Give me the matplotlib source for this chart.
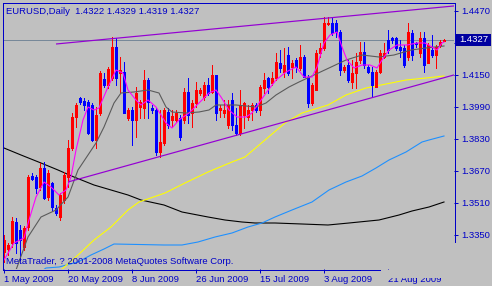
import numpy as np
import pandas as pd
import matplotlib
matplotlib.use('Agg')
import matplotlib.pyplot as plt
from matplotlib.lines import Line2D
from matplotlib.patches import Rectangle
from matplotlib.transforms import blended_transform_factory

# EURUSD daily bars, broker calendar includes the Sunday bar
dates = pd.bdate_range('2009-05-01', periods=111, freq='C',
                       weekmask='Sun Mon Tue Wed Thu Fri')

opens = [1.3265, 1.3280, 1.3310, 1.3415, 1.3375, 1.3290, 1.3390, 1.3645, 1.3640, 1.3590,
         1.3685, 1.3540, 1.3610, 1.3485, 1.3440, 1.3525, 1.3640, 1.3785, 1.3940, 1.4035,
         1.4020, 1.4015, 1.4000, 1.3825, 1.3960, 1.4130, 1.4100, 1.4135, 1.4290, 1.4160,
         1.4165, 1.3935, 1.3975, 1.3925, 1.3990, 1.3985, 1.4125, 1.3985, 1.3975, 1.3765,
         1.3810, 1.3965, 1.3925, 1.3925, 1.3935, 1.3925, 1.4065, 1.3960, 1.4010, 1.4060,
         1.4040, 1.4100, 1.4065, 1.4150, 1.3975, 1.3960, 1.3900, 1.4025, 1.3900, 1.3860,
         1.3950, 1.3940, 1.3975, 1.4000, 1.3975, 1.4085, 1.4135, 1.4110, 1.4135, 1.4210,
         1.4165, 1.4250, 1.4190, 1.4225, 1.4185, 1.4240, 1.4140, 1.4010, 1.4075, 1.4260,
         1.4285, 1.4405, 1.4410, 1.4410, 1.4365, 1.4175, 1.4200, 1.4115, 1.4160, 1.4225,
         1.4265, 1.4190, 1.4165, 1.4090, 1.4165, 1.4240, 1.4325, 1.4335, 1.4335, 1.4290,
         1.4285, 1.4240, 1.4360, 1.4310, 1.4260, 1.4335, 1.4210, 1.4275, 1.4250, 1.4300,
         1.4322]
highs = [1.3350, 1.3310, 1.3440, 1.3435, 1.3400, 1.3395, 1.3650, 1.3660, 1.3650, 1.3710,
         1.3715, 1.3675, 1.3615, 1.3500, 1.3560, 1.3665, 1.3825, 1.3960, 1.4010, 1.4040,
         1.4035, 1.4025, 1.4010, 1.3990, 1.4170, 1.4160, 1.4190, 1.4340, 1.4335, 1.4240,
         1.4215, 1.3985, 1.3990, 1.4090, 1.4025, 1.4175, 1.4135, 1.4000, 1.3985, 1.3975,
         1.3985, 1.3985, 1.3975, 1.3975, 1.3950, 1.4085, 1.4135, 1.4025, 1.4115, 1.4085,
         1.4115, 1.4135, 1.4200, 1.4150, 1.4000, 1.4025, 1.4025, 1.4060, 1.3985, 1.4075,
         1.4015, 1.4000, 1.4010, 1.4010, 1.4100, 1.4160, 1.4140, 1.4165, 1.4260, 1.4275,
         1.4285, 1.4290, 1.4225, 1.4235, 1.4300, 1.4250, 1.4150, 1.4110, 1.4275, 1.4310,
         1.4440, 1.4440, 1.4440, 1.4425, 1.4375, 1.4200, 1.4225, 1.4225, 1.4260, 1.4315,
         1.4315, 1.4200, 1.4190, 1.4175, 1.4275, 1.4310, 1.4375, 1.4340, 1.4340, 1.4325,
         1.4300, 1.4410, 1.4375, 1.4315, 1.4365, 1.4365, 1.4310, 1.4350, 1.4300, 1.4325,
         1.4329]
lows = [1.3215, 1.3250, 1.3290, 1.3260, 1.3225, 1.3275, 1.3375, 1.3625, 1.3560, 1.3575,
        1.3530, 1.3525, 1.3475, 1.3450, 1.3425, 1.3510, 1.3590, 1.3775, 1.3890, 1.4005,
        1.3975, 1.3855, 1.3820, 1.3785, 1.3950, 1.4090, 1.4085, 1.4125, 1.4100, 1.4065,
        1.3960, 1.3925, 1.3800, 1.3840, 1.3935, 1.3935, 1.3935, 1.3960, 1.3750, 1.3740,
        1.3800, 1.3885, 1.3890, 1.3915, 1.3825, 1.3910, 1.3910, 1.3890, 1.3990, 1.4050,
        1.4025, 1.4050, 1.4060, 1.3925, 1.3940, 1.3940, 1.3885, 1.3875, 1.3850, 1.3850,
        1.3885, 1.3925, 1.3925, 1.3965, 1.3950, 1.4060, 1.4060, 1.4100, 1.4125, 1.4165,
        1.4140, 1.4150, 1.4135, 1.4165, 1.4175, 1.4140, 1.3990, 1.4000, 1.4075, 1.4240,
        1.4275, 1.4400, 1.4350, 1.4340, 1.4150, 1.4165, 1.4115, 1.4085, 1.4085, 1.4210,
        1.4185, 1.4160, 1.4040, 1.4090, 1.4160, 1.4235, 1.4260, 1.4310, 1.4275, 1.4240,
        1.4190, 1.4225, 1.4225, 1.4290, 1.4240, 1.4165, 1.4210, 1.4240, 1.4185, 1.4290,
        1.4319]
closes = [1.3325, 1.3300, 1.3420, 1.3310, 1.3325, 1.3385, 1.3640, 1.3630, 1.3585, 1.3685,
          1.3535, 1.3660, 1.3490, 1.3460, 1.3550, 1.3650, 1.3785, 1.3940, 1.4000, 1.4015,
          1.4000, 1.3860, 1.3825, 1.3950, 1.4160, 1.4100, 1.4180, 1.4290, 1.4135, 1.4175,
          1.3960, 1.3975, 1.3925, 1.4060, 1.4015, 1.4125, 1.4015, 1.3975, 1.3765, 1.3815,
          1.3975, 1.3900, 1.3945, 1.3960, 1.3840, 1.4065, 1.3950, 1.4010, 1.4075, 1.4075,
          1.4100, 1.4060, 1.4150, 1.3960, 1.3985, 1.3975, 1.4000, 1.3900, 1.3860, 1.4000,
          1.4010, 1.3975, 1.4000, 1.3975, 1.4090, 1.4125, 1.4090, 1.4135, 1.4215, 1.4185,
          1.4200, 1.4160, 1.4210, 1.4190, 1.4240, 1.4140, 1.4010, 1.4100, 1.4260, 1.4285,
          1.4410, 1.4410, 1.4360, 1.4365, 1.4175, 1.4190, 1.4125, 1.4160, 1.4215, 1.4265,
          1.4200, 1.4165, 1.4100, 1.4165, 1.4260, 1.4260, 1.4275, 1.4325, 1.4285, 1.4275,
          1.4200, 1.4365, 1.4250, 1.4305, 1.4335, 1.4200, 1.4300, 1.4250, 1.4290, 1.4315,
          1.4327]

# moving averages (bar index, price)
fast_ma_bar = [0, 2.5, 5, 6.25, 8, 10, 11.75, 13.75, 15.5, 16.75, 18, 19.75, 21, 22.5, 23.75,
               26, 28, 29.75, 31, 33, 34.25, 36, 38, 40.5, 42, 43.75, 46.25, 48.75, 51.25, 53,
               54.25, 56.25, 58.25, 60.5, 62, 63.75, 65.5, 68, 70.5, 73, 75, 77, 78.25, 80, 81.5,
               83.25, 84.5, 85.75, 87.5, 89.5, 91.5, 93.25, 94.5, 96.25, 98.25, 100.75, 103.25,
               105.25, 107, 108.25, 109.5, 110]
fast_ma_val = [1.3225, 1.3310, 1.3335, 1.3425, 1.3540, 1.3615, 1.3590, 1.3550, 1.3575, 1.3640,
               1.3775, 1.3925, 1.3990, 1.3975, 1.3985, 1.4090, 1.4175, 1.4160, 1.4075, 1.4025,
               1.4000, 1.4025, 1.3990, 1.3910, 1.3885, 1.3925, 1.3960, 1.4010, 1.4060, 1.4075,
               1.4040, 1.3975, 1.3940, 1.3940, 1.3960, 1.4010, 1.4060, 1.4125, 1.4165, 1.4190,
               1.4140, 1.4140, 1.4190, 1.4310, 1.4350, 1.4365, 1.4290, 1.4225, 1.4185, 1.4200,
               1.4200, 1.4185, 1.4225, 1.4275, 1.4300, 1.4300, 1.4310, 1.4310, 1.4290, 1.4275,
               1.4310, 1.4315]
mid_ma_bar = [3, 6, 9.25, 13, 16, 18.5, 21, 23, 25, 27.5, 29.25, 32.5, 36, 38.75, 40.5, 42,
              45.5, 48.75, 51.25, 53, 58, 63, 65.5, 68, 71.25, 73.75, 77.5, 81.25, 85.5, 89.5,
              93.75, 97.5, 101.75, 105.5, 110]
mid_ma_val = [1.3175, 1.3340, 1.3440, 1.3475, 1.3540, 1.3675, 1.3750, 1.3810, 1.3890, 1.4010,
              1.4060, 1.4065, 1.4075, 1.4060, 1.3990, 1.3965, 1.3960, 1.3965, 1.3975, 1.4000,
              1.4000, 1.3990, 1.4010, 1.4050, 1.4090, 1.4115, 1.4150, 1.4185, 1.4225, 1.4250,
              1.4240, 1.4250, 1.4275, 1.4285, 1.4295]
slow_ma_bar = [14.25, 18.5, 22.5, 26.75, 31, 33.75, 40.25, 45.25, 51, 57, 60.25, 65.25, 70.25,
               74.5, 81, 85.5, 90.5, 95.5, 100.5, 105.5, 110]
slow_ma_val = [1.3175, 1.3250, 1.3325, 1.3390, 1.3475, 1.3515, 1.3560, 1.3610, 1.3665, 1.3715,
               1.3740, 1.3825, 1.3910, 1.3960, 1.4000, 1.4050, 1.4085, 1.4105, 1.4125, 1.4135,
               1.4145]
long_ma_bar = [8, 10.5, 13.75, 18.5, 21.75, 25, 27.5, 40, 44.5, 48.5, 52.75, 57, 61, 64.5,
               67.75, 72, 77, 81.25, 85.5, 89.5, 93, 96.25, 100.5, 104.5, 106.25, 110]
long_ma_val = [1.3150, 1.3185, 1.3190, 1.3215, 1.3250, 1.3280, 1.3305, 1.3300, 1.3300, 1.3315,
               1.3340, 1.3360, 1.3390, 1.3410, 1.3440, 1.3475, 1.3515, 1.3575, 1.3615, 1.3645,
               1.3685, 1.3725, 1.3765, 1.3815, 1.3825, 1.3845]
trend_ma_bar = [0, 4.25, 9.25, 13.5, 17.5, 22.5, 26.75, 31, 34.25, 40, 44.5, 51, 55.25, 59.5,
                62.75, 67.75, 74.5, 81, 86.25, 93.75, 98.75, 102, 106.25, 110]
trend_ma_val = [1.3785, 1.3750, 1.3710, 1.3675, 1.3640, 1.3600, 1.3575, 1.3550, 1.3525, 1.3500,
                1.3465, 1.3440, 1.3425, 1.3415, 1.3410, 1.3410, 1.3405, 1.3400, 1.3410, 1.3425,
                1.3450, 1.3470, 1.3490, 1.3515]

# channel trend lines (two anchors each, drawn as rays)
upper_line_bar = [13, 81]
upper_line_price = [1.4305, 1.4435]
lower_line_bar = [16, 58]
lower_line_price = [1.3615, 1.3848]

tick_dates = ['2009-05-01', '2009-05-20', '2009-06-08', '2009-06-26',
              '2009-07-15', '2009-08-03', '2009-08-21']
tick_labels = ['1 May 2009', '20 May 2009', '8 Jun 2009', '26 Jun 2009',
               '15 Jul 2009', '3 Aug 2009', '21 Aug 2009']
price_ticks = [1.3350, 1.3510, 1.3670, 1.3830, 1.3990, 1.4150, 1.4310, 1.4470]

W, H = 492, 286
bg = '#C0C0C0'
fg = '#0000C8'
px = 0.72  # one pixel in points
plt.rcParams['font.family'] = ['Liberation Sans', 'DejaVu Sans']
fs = 6.8

fig = plt.figure(figsize=(W / 100, H / 100), dpi=100, facecolor=bg)
ax = fig.add_axes([3 / W, (H - 269) / H, 451 / W, 266 / H])
ax.set_facecolor(bg)
ax.set_xlim(-0.25, 112.5)
ax.set_ylim(1.3180, 1.4510)
for s in ax.spines.values():
    s.set_visible(False)

o, h, l, c = map(np.array, (opens, highs, lows, closes))
x = np.arange(len(c))
col = np.where(c >= o, '#FF0000', '#0000FF')

# indicators under the candles
ax.plot(trend_ma_bar, trend_ma_val, color='black', lw=px * 1.1, zorder=2)
ax.plot(long_ma_bar, long_ma_val, color='#1E90FF', lw=px * 1.1, zorder=2)
ax.plot(slow_ma_bar, slow_ma_val, color='#FFFF00', lw=px * 1.1, zorder=2)

# candles: 1 px wick, 3 px body
ax.vlines(x, l, h, colors=col, lw=px, zorder=3, antialiased=False)
body_lo = np.minimum(o, c)
body_hi = np.maximum(np.maximum(o, c), body_lo + 0.0005)
ax.vlines(x, body_lo, body_hi, colors=col, lw=3 * px, zorder=4, antialiased=False,
          capstyle='butt')

ax.plot(mid_ma_bar, mid_ma_val, color='#5A5A5A', lw=px * 1.1, zorder=5)
ax.plot(fast_ma_bar, fast_ma_val, color='#FF00FF', lw=px * 1.1, zorder=5)

# channel rays
x_end = ax.get_xlim()[1]
for bars, prices in ((upper_line_bar, upper_line_price), (lower_line_bar, lower_line_price)):
    k = (prices[1] - prices[0]) / (bars[1] - bars[0])
    ax.plot([bars[0], x_end], [prices[0], prices[0] + k * (x_end - bars[0])],
            color='#9400D3', lw=px * 1.2, zorder=6, solid_capstyle='butt')

# bid line and label
ax.axhline(c[-1], color='#778899', lw=px, zorder=1)
tr = blended_transform_factory(ax.transAxes, ax.transData)
ax.add_patch(Rectangle((1 + 2 / 451, c[-1] - 0.003), 35 / 451, 0.006, transform=tr,
                       fc='#0000A0', ec='none', clip_on=False, zorder=10))
ax.text(1 + 5 / 451, c[-1], f'{c[-1]:.4f}', transform=tr, color='white', fontsize=fs,
        ha='left', va='center', clip_on=False, zorder=11)

# axes ticks
ax.yaxis.tick_right()
ax.set_yticks(price_ticks, [('' if abs(p - 1.4310) < 1e-6 else f'{p:.4f}') for p in price_ticks])
tick_pos = dates.get_indexer(pd.to_datetime(tick_dates))
ax.set_xticks(tick_pos, tick_labels, ha='left')
ax.tick_params(axis='both', colors=fg, labelcolor=fg, labelsize=fs, length=3,
               width=px, direction='out')
ax.tick_params(axis='y', pad=2.2)
ax.tick_params(axis='x', pad=1.2)

# chart frame
def frame(x0, y0, x1, y1):
    fig.add_artist(Line2D([x0 / W, x1 / W], [1 - y0 / H, 1 - y1 / H], color=fg,
                          lw=px, antialiased=False))

frame(2.5, 2.5, 455, 2.5)
frame(2.5, 2.5, 2.5, 270)
frame(454.5, 2.5, 454.5, 242)
frame(2.5, 269.5, 380, 269.5)

# the last date label is half hidden under the window edge
fig.add_artist(Rectangle((382 / W, 1 - 278 / H), 70 / W, 8.3 / H, transform=fig.transFigure,
                         fc=bg, ec='none', zorder=20))

fig.text(6 / W, 1 - 11 / H,
         f'EURUSD,Daily  {o[-1]:.4f} {h[-1]:.4f} {l[-1]:.4f} {c[-1]:.4f}',
         color=fg, fontsize=fs, va='center', ha='left')
fig.text(6 / W, 1 - 262 / H, 'MetaTrader, ? 2001-2008 MetaQuotes Software Corp.',
         color=fg, fontsize=fs, va='center', ha='left')

fig.savefig('out.png', dpi=100, facecolor=bg)
